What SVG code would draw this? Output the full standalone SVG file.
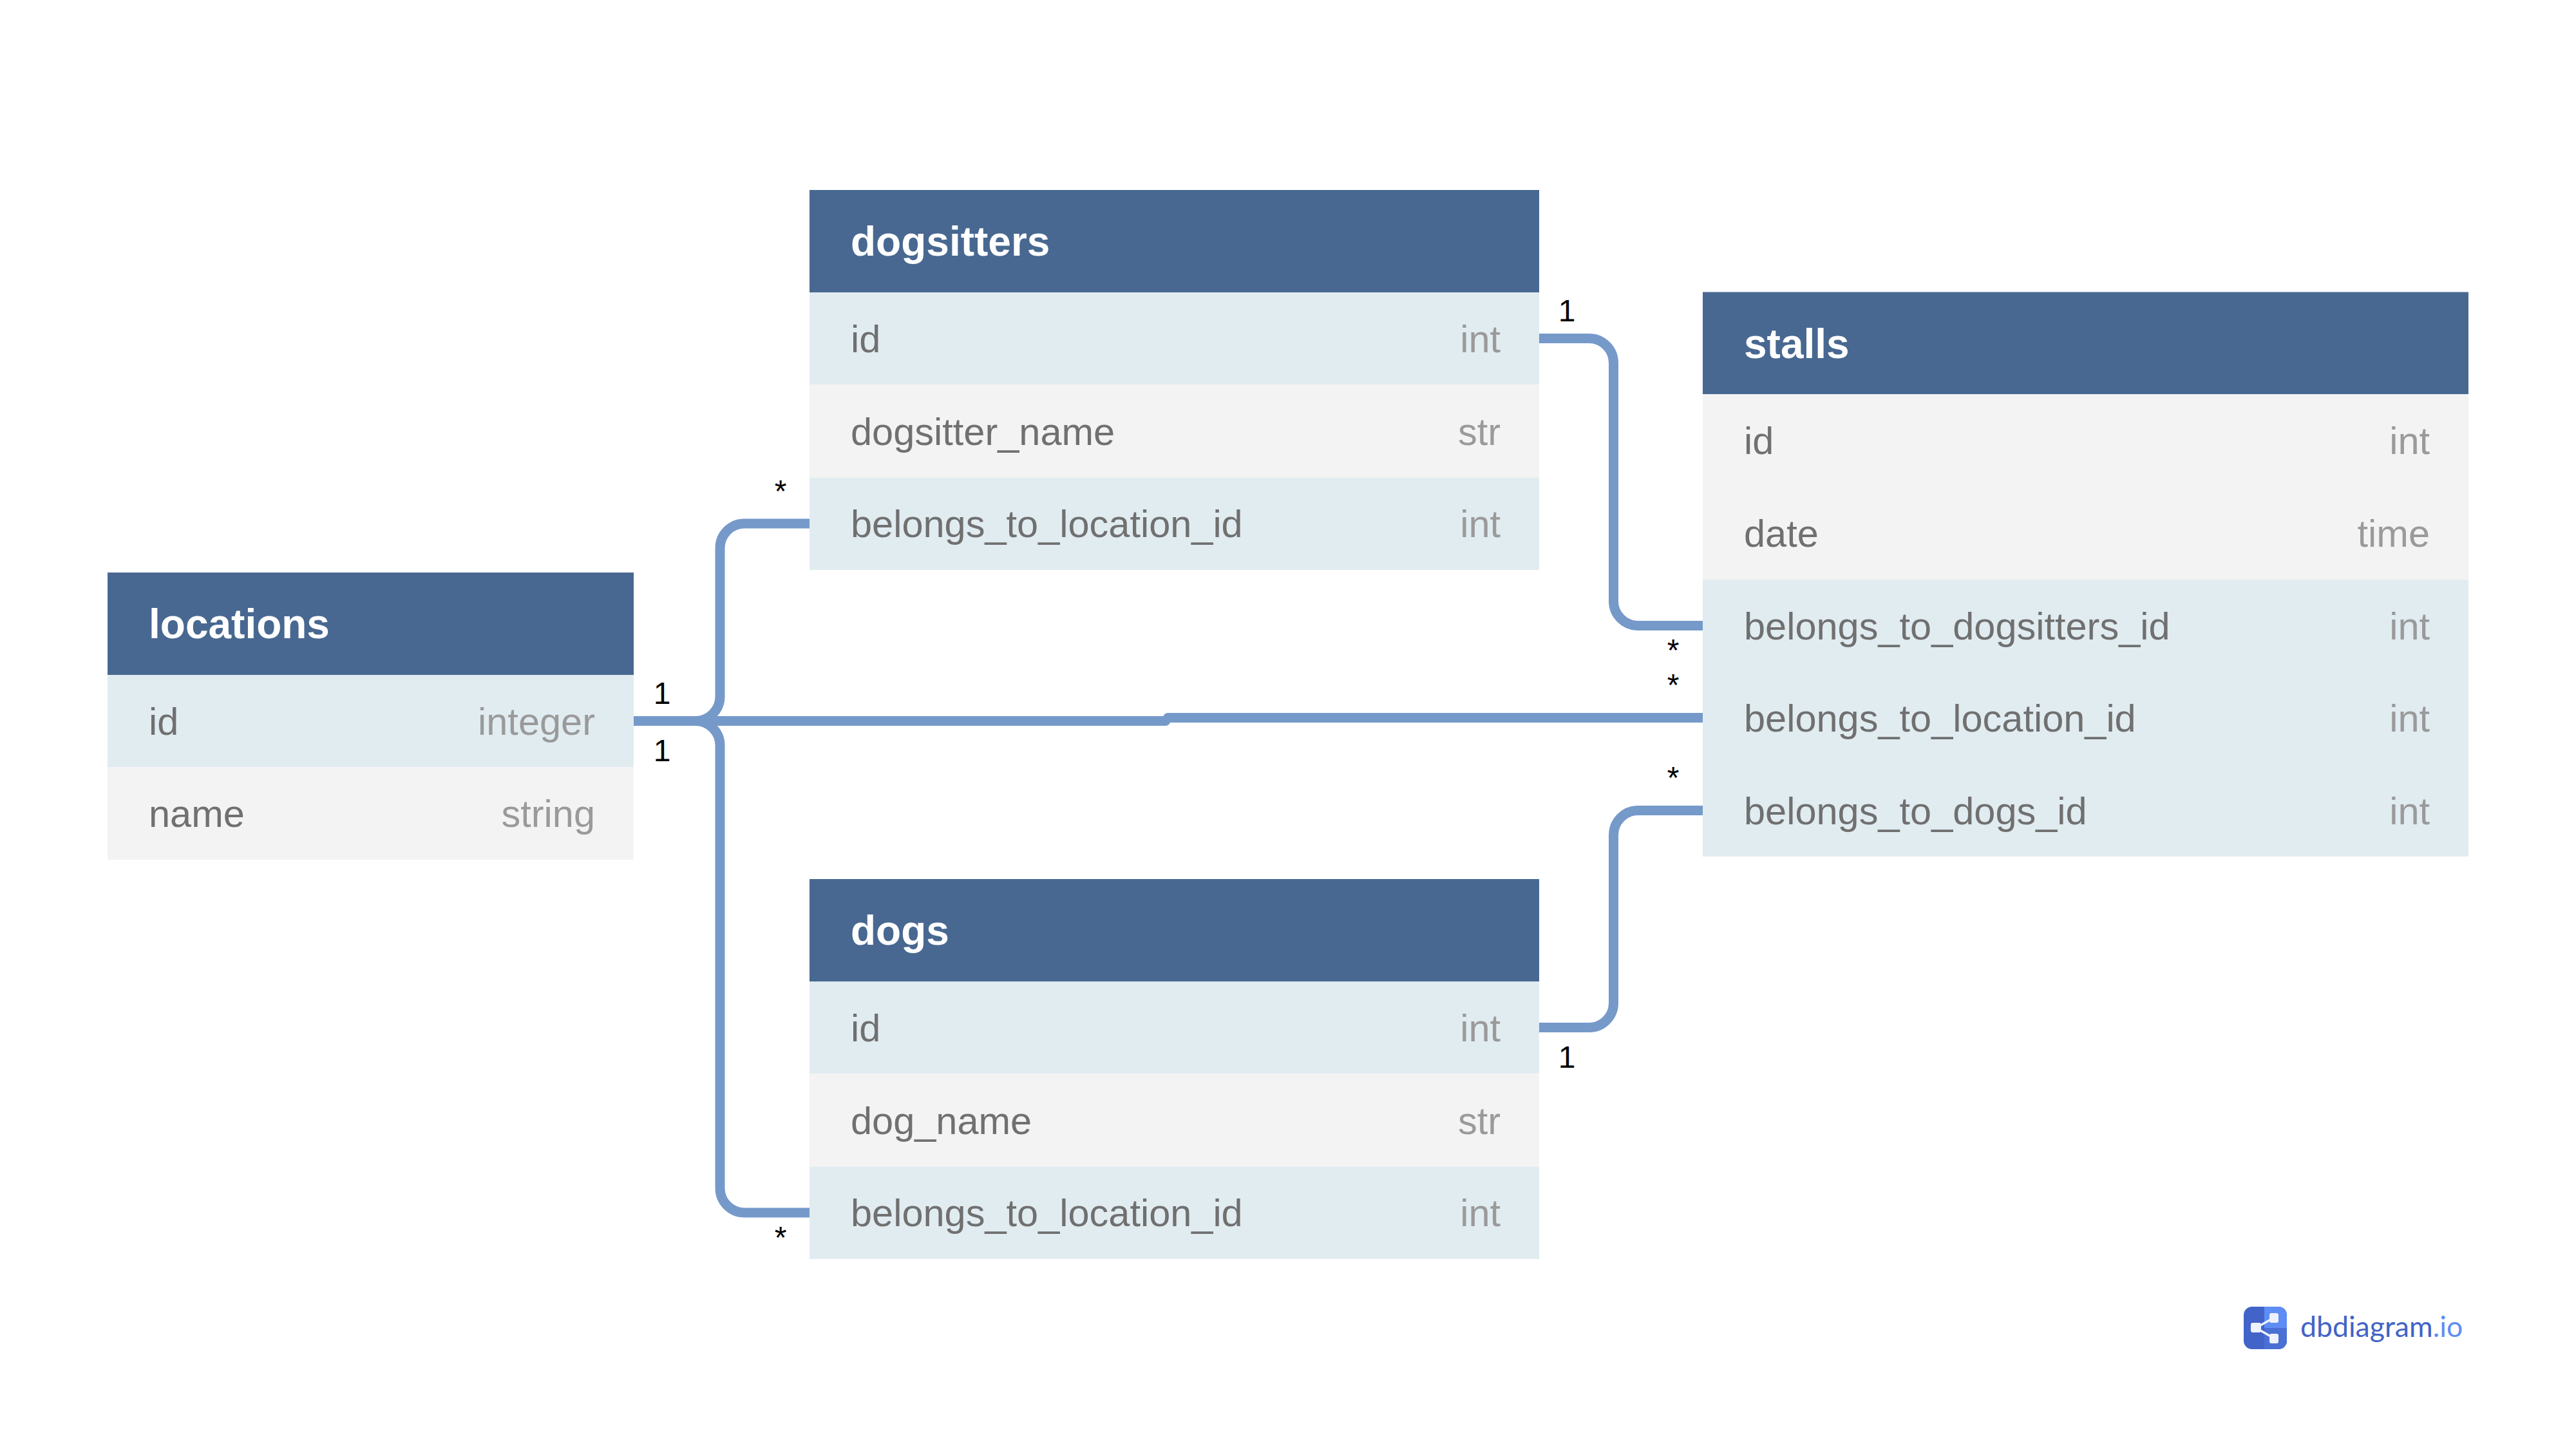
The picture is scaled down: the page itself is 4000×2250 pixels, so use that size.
<svg xmlns="http://www.w3.org/2000/svg" width="4000" height="2250" viewBox="0 0 4000 2250">
<style>
text{font-family:"Liberation Sans",Arial,sans-serif}
.hd{fill:#486891}
.a{fill:#e1ecf1}
.b{fill:#f3f3f3}
.t{fill:#fff;font-size:64px;font-weight:700}
.n{fill:#707070;font-size:59.5px}
.y{fill:#9a9a9a;font-size:59.5px;text-anchor:end}
.c{fill:none;stroke:#7599c9;stroke-width:15;stroke-linecap:round}
.m{fill:#000;font-size:48px;text-anchor:middle}
.lg{font-family:Lato,"Open Sans",sans-serif;font-size:44.6px;fill:#4264c6}
</style>
<rect width="4000" height="2250" fill="#fff"/>
<g id="connectors">
<path class="c" d="M980 1119.5H1080A38 38 0 0 0 1118 1081.5V851A38 38 0 0 1 1156 813H1260"/>
<path class="c" d="M980 1119.5H1080A38 38 0 0 1 1118 1157.5V1845A38 38 0 0 0 1156 1883H1260"/>
<path class="c" d="M980 1119.5H1810"/>
<path class="c" d="M1813.5 1114.5H2648"/>
<path class="c" d="M2386 525.5H2467.5A38 38 0 0 1 2505.5 563.5V933.5A38 38 0 0 0 2543.5 971.5H2648"/>
<path class="c" d="M2386 1595.5H2467.5A38 38 0 0 0 2505.5 1557.5V1296.5A38 38 0 0 1 2543.5 1258.5H2648"/>
</g>
<g id="cardinalities">
<text class="m" x="1028" y="1093">1</text>
<text class="m" x="1028" y="1182">1</text>
<text class="m" x="2433" y="499">1</text>
<text class="m" x="2433" y="1658">1</text>
<text class="m" x="1212" y="779">*</text>
<text class="m" x="1212" y="1938">*</text>
<text class="m" x="2598" y="1026">*</text>
<text class="m" x="2598" y="1080">*</text>
<text class="m" x="2598" y="1224">*</text>
</g>
<g id="locations">
<rect class="hd" x="167" y="889" width="817" height="159"/>
<rect class="a" x="167" y="1048" width="817" height="143.5"/>
<rect class="b" x="167" y="1191.5" width="817" height="143.5"/>
<text class="t" x="231" y="991">locations</text>
<text class="n" x="231" y="1141">id</text>
<text class="y" x="924" y="1141">integer</text>
<text class="n" x="231" y="1284">name</text>
<text class="y" x="924" y="1284">string</text>
</g>
<g id="dogsitters">
<rect class="hd" x="1257" y="295" width="1133" height="159"/>
<rect class="a" x="1257" y="454" width="1133" height="143.5"/>
<rect class="b" x="1257" y="597.5" width="1133" height="144"/>
<rect class="a" x="1257" y="741.5" width="1133" height="143.5"/>
<text class="t" x="1321" y="397">dogsitters</text>
<text class="n" x="1321" y="547">id</text>
<text class="y" x="2330" y="547">int</text>
<text class="n" x="1321" y="690.500">dogsitter_name</text>
<text class="y" x="2330" y="690.500">str</text>
<text class="n" x="1321" y="834">belongs_to_location_id</text>
<text class="y" x="2330" y="834">int</text>
</g>
<g id="dogs">
<rect class="hd" x="1257" y="1365" width="1133" height="159"/>
<rect class="a" x="1257" y="1524" width="1133" height="143.5"/>
<rect class="b" x="1257" y="1667.5" width="1133" height="144"/>
<rect class="a" x="1257" y="1811.5" width="1133" height="143.5"/>
<text class="t" x="1321" y="1467">dogs</text>
<text class="n" x="1321" y="1617">id</text>
<text class="y" x="2330" y="1617">int</text>
<text class="n" x="1321" y="1760.500">dog_name</text>
<text class="y" x="2330" y="1760.500">str</text>
<text class="n" x="1321" y="1904">belongs_to_location_id</text>
<text class="y" x="2330" y="1904">int</text>
</g>
<g id="stalls">
<rect class="hd" x="2644" y="453.500" width="1189" height="158.500"/>
<rect class="b" x="2644" y="612" width="1189" height="288"/>
<rect class="a" x="2644" y="900" width="1189" height="430"/>
<text class="t" x="2708" y="556">stalls</text>
<text class="n" x="2708" y="705">id</text>
<text class="y" x="3773" y="705">int</text>
<text class="n" x="2708" y="849">date</text>
<text class="y" x="3773" y="849">time</text>
<text class="n" x="2708" y="993">belongs_to_dogsitters_id</text>
<text class="y" x="3773" y="993">int</text>
<text class="n" x="2708" y="1136">belongs_to_location_id</text>
<text class="y" x="3773" y="1136">int</text>
<text class="n" x="2708" y="1280">belongs_to_dogs_id</text>
<text class="y" x="3773" y="1280">int</text>
</g>
<g id="logo">
<rect x="3484" y="2029" width="67" height="66" rx="13" fill="#4264c9"/>
<path d="M3516 2029H3538A13 13 0 0 1 3551 2042V2062H3516Z" fill="#5f8df6"/>
<path d="M3516 2062H3551V2082A13 13 0 0 1 3538 2095H3516Z" fill="#4a70d6"/>
<path d="M3503 2062L3531 2046M3503 2062L3531 2078" stroke="#eef2fc" stroke-width="3.5" fill="none"/>
<rect x="3495" y="2054" width="16" height="15" rx="3" fill="#eef2fc"/>
<rect x="3524" y="2039" width="14" height="15" rx="3" fill="#eef2fc"/>
<rect x="3524" y="2071" width="14" height="15" rx="3" fill="#eef2fc"/>
<text class="lg" x="3572" y="2076">dbdiagram<tspan fill="#5f8df6">.io</tspan></text>
</g>
</svg>
